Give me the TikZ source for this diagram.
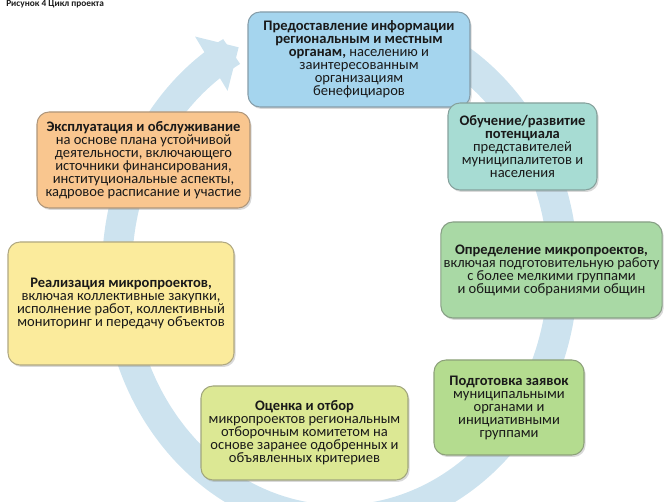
\documentclass[tikz,border=0pt]{standalone}
\usepackage{fontspec}
\setmainfont{Carlito}
\usetikzlibrary{arrows.meta,shadows}

\definecolor{infoblue}{HTML}{A5D5EE}
\definecolor{trainteal}{HTML}{A7DCD3}
\definecolor{defgreen}{HTML}{A9D9A5}
\definecolor{prepgreen}{HTML}{B4DC8F}
\definecolor{evallime}{HTML}{DCE894}
\definecolor{implyellow}{HTML}{FBEB9C}
\definecolor{operorange}{HTML}{F9C68F}
\definecolor{bandblue}{HTML}{CDE3EF}

\begin{document}
\begin{tikzpicture}
  [x=0.75pt, y=-0.75pt,
   every node/.style={align=center, text=black!90, font=\fontsize{10.9}{9.75}\selectfont},
   stage/.style={fill=#1, draw=#1!55!gray!90!black, line width=0.8pt, rounded corners=9pt,
                 inner sep=2pt, drop shadow={opacity=0.3, shadow xshift=1.2pt, shadow yshift=-1.5pt}},
   band/.style={draw=bandblue, line width=22.5pt, -{Triangle[length=24pt, width=46pt]}}]
  \useasboundingbox (0,0) rectangle (665,502);
  \node[anchor=north west, inner sep=0pt, font=\bfseries\fontsize{7}{7}\selectfont] (title) at (6,0.5)
    {Рисунок 4 Цикл проекта};
  % cycle arrow behind the stages
  \begin{scope}
    \clip (0,0) rectangle (665,502);
    \draw[band] plot[domain=-69:243, samples=90, smooth]
      ({340+223*cos(\x)}, {270+250*sin(\x)});
  \end{scope}
  \node[stage=infoblue, minimum width=166.5pt, minimum height=71.25pt] (info) at (359,59.5)
    {\textbf{Предоставление информации}\\ \textbf{региональным и местным}\\
     \textbf{органам,} населению и\\ заинтересованным\\ организациям\\ бенефициаров};
  \node[stage=trainteal, minimum width=111.75pt, minimum height=65.25pt] (train) at (522.5,146.5)
    {\textbf{Обучение/развитие}\\ \textbf{потенциала}\\ представителей\\ муниципалитетов и\\ населения};
  \node[stage=defgreen, minimum width=162.75pt, minimum height=72pt] (define) at (551.5,270)
    {\textbf{Определение микропроектов,}\\ включая подготовительную работу\\
     с более мелкими группами\\ и общими собраниями общин};
  \node[stage=prepgreen, minimum width=112.5pt, minimum height=71.25pt] (apply) at (509,407.5)
    {\textbf{Подготовка заявок}\\ муниципальными\\ органами и\\ инициативными\\ группами};
  \node[stage=evallime, minimum width=155.25pt, minimum height=70.5pt] (select) at (304.5,433)
    {\textbf{Оценка и отбор}\\ микропроектов региональным\\ отборочным комитетом на\\
     основе заранее одобренных и\\ объявленных критериев};
  \node[stage=implyellow, minimum width=169.5pt, minimum height=92.25pt] (implement) at (121,303.5)
    {\textbf{Реализация микропроектов,}\\ включая коллективные закупки,\\
     исполнение работ, коллективный\\ мониторинг и передачу объектов};
  \node[stage=operorange, minimum width=159.75pt, minimum height=72pt] (operate) at (143.5,160)
    {\textbf{Эксплуатация и обслуживание}\\ на основе плана устойчивой\\ деятельности, включающего\\
     источники финансирования,\\ институциональные аспекты,\\ кадровое расписание и участие};
\end{tikzpicture}
\end{document}
